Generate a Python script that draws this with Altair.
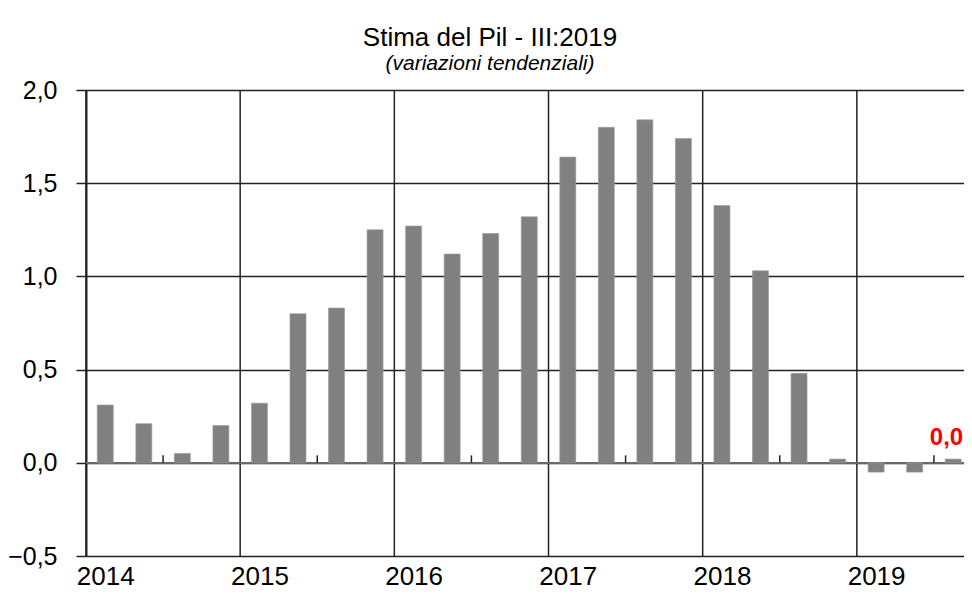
import altair as alt
import pandas as pd

# ---- data ----
years = [2014, 2015, 2016, 2017, 2018, 2019]
quarters = ["I", "II", "III", "IV"] * 5 + ["I", "II", "III"]
values = [0.31, 0.21, 0.05, 0.20,
          0.32, 0.80, 0.83, 1.25,
          1.27, 1.12, 1.23, 1.32,
          1.64, 1.80, 1.84, 1.74,
          1.38, 1.03, 0.48, 0.02,
          -0.05, -0.05, 0.02]
y_ticks = [-0.5, 0.0, 0.5, 1.0, 1.5, 2.0]

n = len(values)
df = pd.DataFrame({"pos": [i + 0.5 for i in range(n)], "v": values})
last = df.iloc[[-1]].copy()
boundaries = pd.DataFrame({"b": [4 * k for k in range(len(years))]})
midticks = pd.DataFrame({"m": [4 * k + 2 for k in range(len(years))]})
label_pos = [4 * k + 0.5 for k in range(len(years))]

FONT = "Liberation Sans"
LINE = "#222222"

xscale = alt.Scale(domain=[0, 22.78], nice=False, zero=False, padding=0)
yscale = alt.Scale(domain=[-0.5, 2.0], nice=False, zero=False, padding=0)

bars = alt.Chart(df).mark_bar(size=16, color="#808080", stroke="#9a9a9a", strokeWidth=0.6).encode(
    x=alt.X("pos:Q", scale=xscale,
            axis=alt.Axis(values=label_pos, title=None, grid=False, ticks=False, domain=False,
                          labelExpr=f"{years[0]} + floor(datum.value / 4)",
                          labelFontSize=26, labelFont=FONT, labelColor="black",
                          labelPadding=7)),
    y=alt.Y("v:Q", scale=yscale,
            axis=alt.Axis(values=y_ticks, title=None, grid=True, gridColor=LINE, gridWidth=1.5,
                          ticks=True, tickSize=10, tickColor=LINE, tickWidth=1.5,
                          domain=True, domainColor=LINE, domainWidth=2,
                          labelExpr="replace(format(datum.value, '.1f'), '.', ',')",
                          labelFontSize=25, labelFont=FONT, labelColor="black",
                          labelPadding=19)),
)

vgrid = alt.Chart(boundaries).mark_rule(color=LINE, strokeWidth=1.5).encode(
    x=alt.X("b:Q", scale=xscale),
    y=alt.datum(-0.5, scale=yscale),
    y2=alt.datum(2.0),
)

zero = alt.Chart(boundaries).mark_rule(color="#6a6a6a", strokeWidth=1.5).encode(
    y=alt.datum(0.0, scale=yscale),
)

ticks = alt.Chart(midticks).mark_rule(color=LINE, strokeWidth=1.5).encode(
    x=alt.X("m:Q", scale=xscale),
    y=alt.datum(0.0, scale=yscale),
    y2=alt.datum(0.04),
)

label = alt.Chart(last).transform_calculate(
    t="replace(format(datum.v, '.1f'), '.', ',')"
).mark_text(color="red", fontWeight="bold", fontSize=24, font=FONT, align="right",
            baseline="alphabetic", dy=-14, dx=10).encode(
    x=alt.X("pos:Q", scale=xscale),
    y=alt.Y("v:Q", scale=yscale),
    text="t:N",
)

chart = alt.layer(vgrid, zero, bars, ticks, label).properties(
    width=878,
    height=466,
    autosize=alt.AutoSizeParams(type="none"),
    padding={"left": 78, "top": 82, "right": 0, "bottom": 34},
    title=alt.TitleParams(
        text="Stima del Pil - III:2019",
        subtitle="(variazioni tendenziali)",
        font=FONT, fontSize=26, fontWeight="normal", color="black",
        subtitleFont=FONT, subtitleFontSize=21, subtitleFontStyle="italic",
        subtitleColor="black", subtitlePadding=2,
        anchor="middle", dx=-35, offset=4,
    ),
).configure_view(stroke=None).configure(background="white")

chart.save("out.html", embed_options={"renderer": "svg", "actions": False})
